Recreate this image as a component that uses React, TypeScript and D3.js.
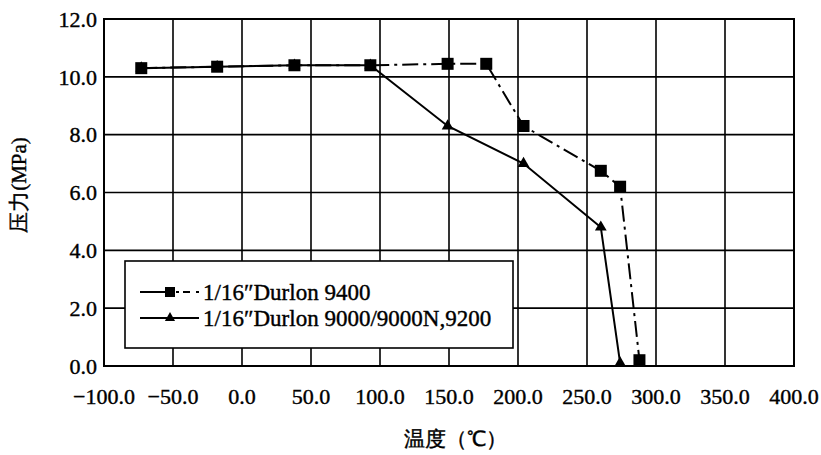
import React from "react";
import * as d3 from "d3";

const xTicks = [-100, -50, 0, 50, 100, 150, 200, 250, 300, 350, 400];
const yTicks = [0, 2, 4, 6, 8, 10, 12];

const series9400Temp = [-73, -18, 38, 93, 149, 177, 204, 260, 274, 288];
const series9400Press = [10.3, 10.35, 10.4, 10.4, 10.45, 10.45, 8.3, 6.75, 6.2, 0.2];

const series9000Temp = [-73, -18, 38, 93, 149, 204, 260, 274];
const series9000Press = [10.3, 10.35, 10.4, 10.4, 8.3, 7.0, 4.8, 0.1];

const legendLabels = ["1/16\u2033Durlon 9400", "1/16\u2033Durlon 9000/9000N,9200"];
const xTitle = "温度（℃）";
const yTitle = "压力(MPa)";

const W = 821;
const H = 455;
const M = { left: 104, right: 794, top: 19, bottom: 366 };
const SERIF = "Liberation Serif";

export default function App() {
  const x = d3.scaleLinear().domain([-100, 400]).range([M.left, M.right]);
  const y = d3.scaleLinear().domain([0, 12]).range([M.bottom, M.top]);

  const d9400 = series9400Temp.map((t, i) => [t, series9400Press[i]] as [number, number]);
  const d9000 = series9000Temp.map((t, i) => [t, series9000Press[i]] as [number, number]);

  const line = d3
    .line<[number, number]>()
    .x((d) => x(d[0]))
    .y((d) => y(d[1]));

  const tri = d3.symbol().type(d3.symbolTriangle).size(60)();
  const sq = 12;

  const legend = { x0: 125, x1: 513, y0: 261, y1: 348 };
  const legendRows = [292, 318];
  const ts = { fontFamily: SERIF } as React.CSSProperties;
  const txt = { fill: "#000", stroke: "#000", strokeWidth: 0.4 };

  return (
    <svg width={W} height={H} style={{ position: "absolute", left: 0, top: 0, background: "#fff" }}>
      <rect x={0} y={0} width={W} height={H} fill="#fff" />
      {xTicks.map((t) => (
        <line key={"gx" + t} x1={x(t)} x2={x(t)} y1={M.top} y2={M.bottom} stroke="#000" strokeWidth={1.6} />
      ))}
      {yTicks.map((t) => (
        <line key={"gy" + t} x1={M.left} x2={M.right} y1={y(t)} y2={y(t)} stroke="#000" strokeWidth={1.6} />
      ))}
      <rect
        x={M.left}
        y={M.top}
        width={M.right - M.left}
        height={M.bottom - M.top}
        fill="none"
        stroke="#000"
        strokeWidth={2}
      />
      <path d={line(d9000) || ""} fill="none" stroke="#000" strokeWidth={2} />
      <path d={line(d9400) || ""} fill="none" stroke="#000" strokeWidth={2} strokeDasharray="16,5,3,5" />
      {d9000.map((d, i) => (
        <path key={"t" + i} d={tri || ""} transform={`translate(${x(d[0])},${y(d[1])})`} fill="#000" />
      ))}
      {d9400.map((d, i) => (
        <rect key={"s" + i} x={x(d[0]) - sq / 2} y={y(d[1]) - sq / 2} width={sq} height={sq} fill="#000" />
      ))}
      <rect
        x={legend.x0}
        y={legend.y0}
        width={legend.x1 - legend.x0}
        height={legend.y1 - legend.y0}
        fill="#fff"
        stroke="#000"
        strokeWidth={1.6}
      />
      <line x1={140} x2={170} y1={legendRows[0]} y2={legendRows[0]} stroke="#000" strokeWidth={2} />
      <line x1={170} x2={199} y1={legendRows[0]} y2={legendRows[0]} stroke="#000" strokeWidth={2} strokeDasharray="0,6,3,4,7,0" />
      <rect x={170 - 5} y={legendRows[0] - 5} width={10} height={10} fill="#000" />
      <line x1={140} x2={199} y1={legendRows[1]} y2={legendRows[1]} stroke="#000" strokeWidth={2} />
      <path d={d3.symbol().type(d3.symbolTriangle).size(45)() || ""} transform={`translate(170,${legendRows[1]})`} fill="#000" />
      {legendLabels.map((l, i) => (
        <text key={l} x={203} y={legendRows[i]} dy="0.35em" fontSize={23} {...txt} style={ts}>
          {l}
        </text>
      ))}
      {yTicks.map((t) => (
        <text key={"yl" + t} x={97} y={y(t)} dy="0.35em" textAnchor="end" fontSize={22} {...txt} style={ts}>
          {t.toFixed(1)}
        </text>
      ))}
      {xTicks.map((t) => (
        <text key={"xl" + t} x={x(t)} y={M.bottom + 30} dy="0.35em" textAnchor="middle" fontSize={22} {...txt} style={ts}>
          {(t < 0 ? "\u2212" : "") + Math.abs(t).toFixed(1)}
        </text>
      ))}
      <text x={455} y={439} dy="0.35em" textAnchor="middle" fontSize={21} {...txt} style={ts}>
        {xTitle}
      </text>
      <text
        transform={`translate(19,185) rotate(-90)`}
        dy="0.35em"
        textAnchor="middle"
        fontSize={21}
        {...txt}
        style={ts}
      >
        {yTitle}
      </text>
    </svg>
  );
}
